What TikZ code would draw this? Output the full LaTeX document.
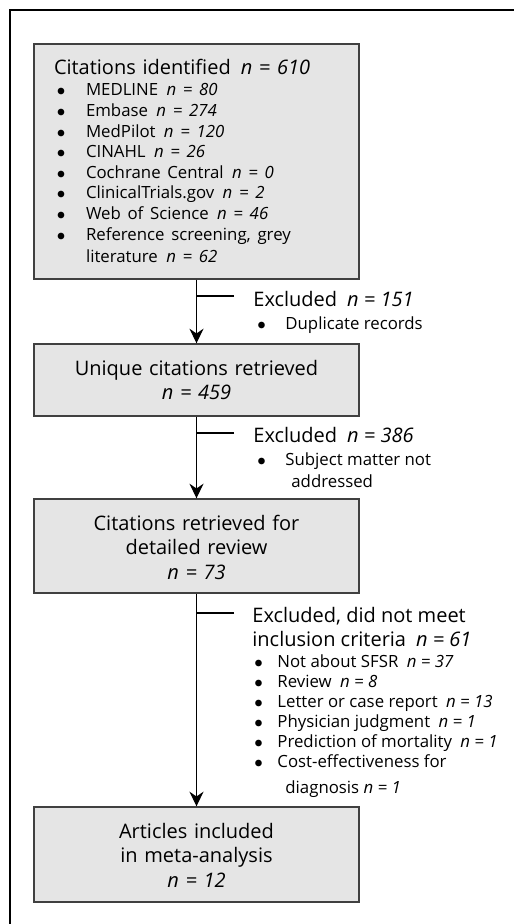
\documentclass[tikz,border=0pt]{standalone}
\usepackage{fontspec}
\setmainfont{Open Sans}
\usetikzlibrary{positioning,arrows.meta}

\newcommand{\nval}[1]{\textit{n = #1}}
\newcommand{\headsize}{\fontsize{10}{12.25}\selectfont}
\newcommand{\itemsize}{\fontsize{8.4}{10}\selectfont}
\newcommand{\dotmark}{$\bullet$}

\begin{document}
\begin{tikzpicture}[
  x=0.5pt, y=-0.5pt,
  box/.style={draw=black!75, line width=0.7pt, fill=black!10,
    text width=142.5pt, inner xsep=10pt, inner ysep=0pt,
    text height=15.5pt, anchor=base, font=\headsize},
  excl/.style={inner sep=0pt, anchor=base west},
  flow/.style={line width=0.6pt},
  >={Stealth[length=7.3pt,width=7pt,inset=2.4pt]}
]
\useasboundingbox (0,0) rectangle (514,924);
% frame, only top and left edges show
\draw[line width=1pt] (10,924) -- (10,10) -- (514,10);

% main boxes
\node[box, align=left, text depth=102pt] (ident) at (196.5,75) {%
  \fontsize{8.4}{10.3}\selectfont
  \begin{tabular}[t]{@{\hspace{1.5pt}}p{14.5pt}@{}l@{}}
  \multicolumn{2}{@{}l@{}}{\headsize Citations identified\enspace\nval{610}}\\[0.2pt]
  \dotmark & MEDLINE\enspace\nval{80}\\
  \dotmark & Embase\enspace\nval{274}\\
  \dotmark & MedPilot\enspace\nval{120}\\
  \dotmark & CINAHL\enspace\nval{26}\\
  \dotmark & Cochrane Central\enspace\nval{0}\\
  \dotmark & ClinicalTrials.gov\enspace\nval{2}\\
  \dotmark & Web of Science\enspace\nval{46}\\
  \dotmark & Reference screening, grey\\[1pt]
           & literature\enspace\nval{62}
  \end{tabular}};
\node[box, align=center, text depth=20.5pt] (uniq) at (196.5,375)
  {Unique citations retrieved\\\nval{459}};
\node[box, align=center, text depth=31.5pt] (detail) at (196.5,530)
  {Citations retrieved for\\detailed review\\\nval{73}};
\node[box, align=center, text height=15.5pt, text depth=32pt] (incl) at (196.5,838)
  {Articles included\\in meta-analysis\\\nval{12}};

% excluded notes
\node[excl] (dup) at (253,307) {\itemsize
  \begin{tabular}[t]{@{\hspace{2pt}}p{14pt}@{}l@{}}
  \multicolumn{2}{@{}l@{}}{\headsize Excluded\enspace\nval{151}}\\[1.5pt]
  \dotmark & Duplicate records
  \end{tabular}};
\node[excl] (subj) at (253,442) {\itemsize
  \begin{tabular}[t]{@{\hspace{2pt}}p{14pt}@{}l@{}}
  \multicolumn{2}{@{}l@{}}{\headsize Excluded\enspace\nval{386}}\\[1.5pt]
  \dotmark & Subject matter not\\[1pt]
           & \hspace{3pt}addressed
  \end{tabular}};
\node[excl] (crit) at (252,622) {\itemsize
  \begin{tabular}[t]{@{\hspace{1pt}}p{11.5pt}@{}l@{}}
  \multicolumn{2}{@{}l@{}}{\headsize Excluded, did not meet}\\[1.5pt]
  \multicolumn{2}{@{}l@{}}{\headsize inclusion criteria\enspace\nval{61}}\\[0.4pt]
  \dotmark & Not about SFSR\enspace\nval{37}\\
  \dotmark & Review\enspace\nval{8}\\
  \dotmark & Letter or case report\enspace\nval{13}\\
  \dotmark & Physician judgment\enspace\nval{1}\\
  \dotmark & Prediction of mortality\enspace\nval{1}\\
  \dotmark & Cost-effectiveness for\\[3pt]
           & \hspace{4pt}diagnosis \nval{1}
  \end{tabular}};

% arrows and side branches
\draw[flow,->] (ident) -- (uniq);
\draw[flow,->] (uniq) -- (detail);
\draw[flow,->] (detail) -- (incl);
\coordinate (cut1) at (234,296);
\coordinate (cut2) at (234,433);
\coordinate (cut3) at (234,613);
\foreach \c in {cut1,cut2,cut3}
  \draw[flow] (\c) -- (\c -| ident.south);
\end{tikzpicture}
\end{document}
